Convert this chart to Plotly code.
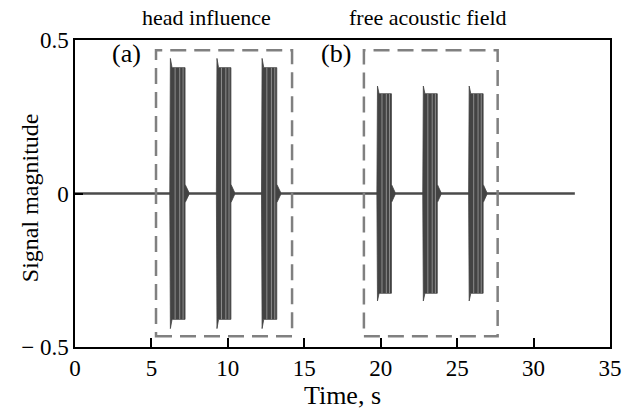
import plotly.graph_objects as go

# ---- data ----
signal_end = 32.7                       # s, end of recording
burst_start = [6.2, 9.25, 12.2, 19.75, 22.75, 25.75]
burst_end = [7.2, 10.2, 13.2, 20.7, 23.7, 26.7]
burst_amp = [0.41, 0.41, 0.41, 0.325, 0.325, 0.325]
burst_peak = [0.44, 0.44, 0.44, 0.35, 0.35, 0.35]
box_x0 = [5.3, 18.9]
box_x1 = [14.2, 27.65]
box_ylo = [-0.465, -0.465]
box_yhi = [0.467, 0.467]
box_labels = ["head influence", "free acoustic field"]
box_label_x = [8.6, 23.1]
panel_labels = ["(a)", "(b)"]
panel_x = [3.4, 17.05]
x_ticks = [0, 5, 10, 15, 20, 25, 30, 35]
y_ticks = [-0.5, 0, 0.5]
y_ticktext = ["\u2212 0.5", "0", "0.5"]

SIG = "#434343"
FONT = "Liberation Serif"

fig = go.Figure()

# baseline noise
fig.add_trace(go.Scatter(x=[0, signal_end], y=[0, 0], mode="lines",
                         line=dict(color="#4a4a4a", width=2.4),
                         hoverinfo="skip", showlegend=False))

# bursts as envelopes
for t0, t1, a, p in zip(burst_start, burst_end, burst_amp, burst_peak):
    w = t1 - t0
    xs = [t0, t0 + 0.04 * w, t0 + 0.15 * w, t1, t1, t1 + 0.25 * w, t1 + 0.25 * w,
          t1, t1, t0 + 0.15 * w, t0 + 0.04 * w, t0]
    ys = [0, p, a, a, 0.03, 0.004, -0.004, -0.03, -a, -a, -p, 0]
    fig.add_trace(go.Scatter(x=xs, y=ys, mode="lines", fill="toself",
                             fillcolor=SIG, line=dict(color=SIG, width=0.8),
                             hoverinfo="skip", showlegend=False))
    # lighter vertical stripes inside the burst
    sx, sy = [], []
    for f in (0.35, 0.65, 0.87):
        sx += [t0 + f * w, t0 + f * w, None]
        sy += [-a, a, None]
    fig.add_trace(go.Scatter(x=sx, y=sy, mode="lines",
                             line=dict(color="#8c8c8c", width=1),
                             hoverinfo="skip", showlegend=False))

# dashed boxes and labels
for x0, x1, ylo, yhi, lab, lx, pl, px in zip(box_x0, box_x1, box_ylo, box_yhi,
                                             box_labels, box_label_x,
                                             panel_labels, panel_x):
    fig.add_shape(type="rect", x0=x0, x1=x1, y0=ylo, y1=yhi, xref="x", yref="y",
                  line=dict(color="#808080", width=2.5, dash="16px,8px"))
    fig.add_annotation(x=lx, y=1.072, xref="x", yref="paper", yanchor="middle",
                       text=lab, showarrow=False,
                       font=dict(family=FONT, size=22, color="black"))
    fig.add_annotation(x=px, y=0.455, xref="x", yref="y", text=pl,
                       showarrow=False,
                       font=dict(family=FONT, size=26, color="black"))

# y-axis title
fig.add_annotation(x=-0.084, y=0.485, xref="paper", yref="paper",
                   xanchor="center", yanchor="middle", textangle=-90,
                   text="Signal magnitude", showarrow=False,
                   font=dict(family=FONT, size=24, color="black"))

fig.update_layout(
    width=629, height=410,
    margin=dict(l=75, r=19, t=40, b=63),
    paper_bgcolor="white", plot_bgcolor="white",
    font=dict(family=FONT, size=23, color="black"),
    xaxis=dict(range=[0, 35], tickvals=x_ticks, ticks="inside", ticklen=9,
               tickwidth=1.5, tickcolor="black", showline=True, linecolor="black",
               linewidth=1.5, mirror=True, showgrid=False, zeroline=False,
               automargin=False,
               title=dict(text="Time, s", standoff=0, font=dict(size=26)),
               tickfont=dict(size=23)),
    yaxis=dict(range=[-0.5, 0.5], tickvals=y_ticks, ticktext=y_ticktext,
               ticks="inside", ticklen=8, tickwidth=1.5, tickcolor="black",
               showline=True, linecolor="black", linewidth=1.5, mirror=True,
               showgrid=False, zeroline=False, automargin=False,
               tickfont=dict(size=23)),
)

fig.write_html("out.html")
